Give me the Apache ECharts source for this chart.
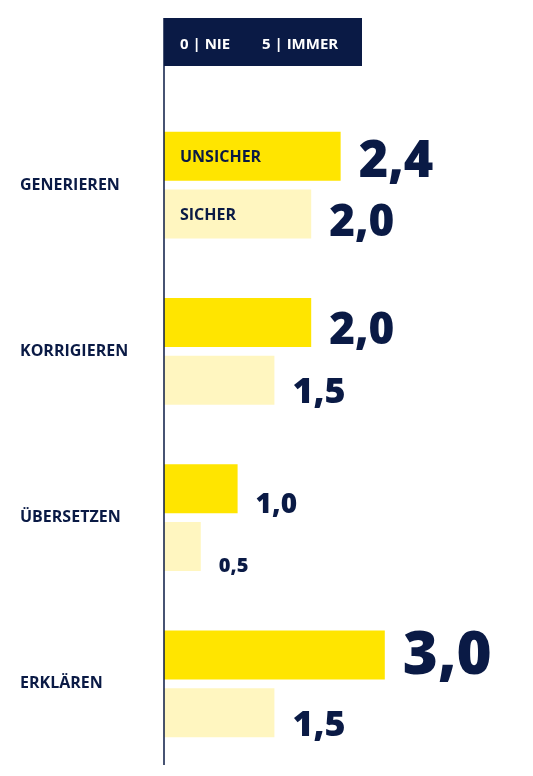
<!DOCTYPE html>
<html><head><meta charset="utf-8">
<script src="https://cdn.jsdelivr.net/npm/echarts@6/dist/echarts.min.js"></script>
<style>html,body{margin:0;padding:0;background:#fff}#c{width:533px;height:776px}</style>
</head><body><div id="c"></div>
<script>
const categories = ['GENERIEREN','KORRIGIEREN','ÜBERSETZEN','ERKLÄREN'];
const unsicher = [2.4, 2.0, 1.0, 3.0];
const sicher = [2.0, 1.5, 0.5, 1.5];
const seriesNames = ['UNSICHER','SICHER'];
const headerText = ['0 | NIE', '5 | IMMER'];
const NAVY = '#0a1a45';
const FONT = '"Open Sans", "Noto Sans", sans-serif';
function fmt(v){ return v.toFixed(1).replace('.', ','); }
function items(arr){
  return arr.map(v => ({value: v, label: {fontSize: 12 + 16*v, offset: [0, 23 - 7*v]}}));
}
const chart = echarts.init(document.getElementById('c'));
const lbl = {show: true, position: 'right', distance: 18, color: NAVY, fontFamily: FONT, fontWeight: 800,
  formatter: p => fmt(p.value)};
chart.setOption({
  animation: false,
  grid: {left: 164, right: 1, top: 102, bottom: 9},
  xAxis: {type: 'value', min: 0, max: 5, show: false},
  yAxis: {type: 'category', data: categories, inverse: true,
    axisLine: {show: false}, axisTick: {show: false},
    axisLabel: {align: 'left', margin: 144, color: NAVY, fontFamily: FONT, fontWeight: 'bold', fontSize: 16}},
  series: [
    {name: seriesNames[0], type: 'bar', data: items(unsicher), barWidth: 49, barGap: '18%',
     itemStyle: {color: '#ffe500'}, label: lbl},
    {name: seriesNames[1], type: 'bar', data: items(sicher), barWidth: 49,
     itemStyle: {color: '#fff6c0'}, label: lbl}
  ]
});
const y0 = chart.convertToPixel({yAxisIndex: 0}, categories[0]);
const tStyle = {fill: NAVY, font: 'bold 16px ' + FONT, textVerticalAlign: 'middle'};
chart.setOption({graphic: [
  {type: 'line', z: 100, shape: {x1: 164, y1: 18, x2: 164, y2: 765}, style: {stroke: NAVY, lineWidth: 1.5}},
  {type: 'rect', z: 100, shape: {x: 164, y: 18, width: 198, height: 48}, style: {fill: NAVY}},
  {type: 'text', z: 101, x: 180, y: 45, style: {text: headerText[0], fill: '#fff', font: 'bold 15px ' + FONT, textVerticalAlign: 'middle'}},
  {type: 'text', z: 101, x: 262, y: 45, style: {text: headerText[1], fill: '#fff', font: 'bold 15px ' + FONT, textVerticalAlign: 'middle'}},
  {type: 'text', z: 101, x: 180, y: y0 - 28, style: Object.assign({text: seriesNames[0]}, tStyle)},
  {type: 'text', z: 101, x: 180, y: y0 + 30, style: Object.assign({text: seriesNames[1]}, tStyle)}
]});
</script></body></html>
